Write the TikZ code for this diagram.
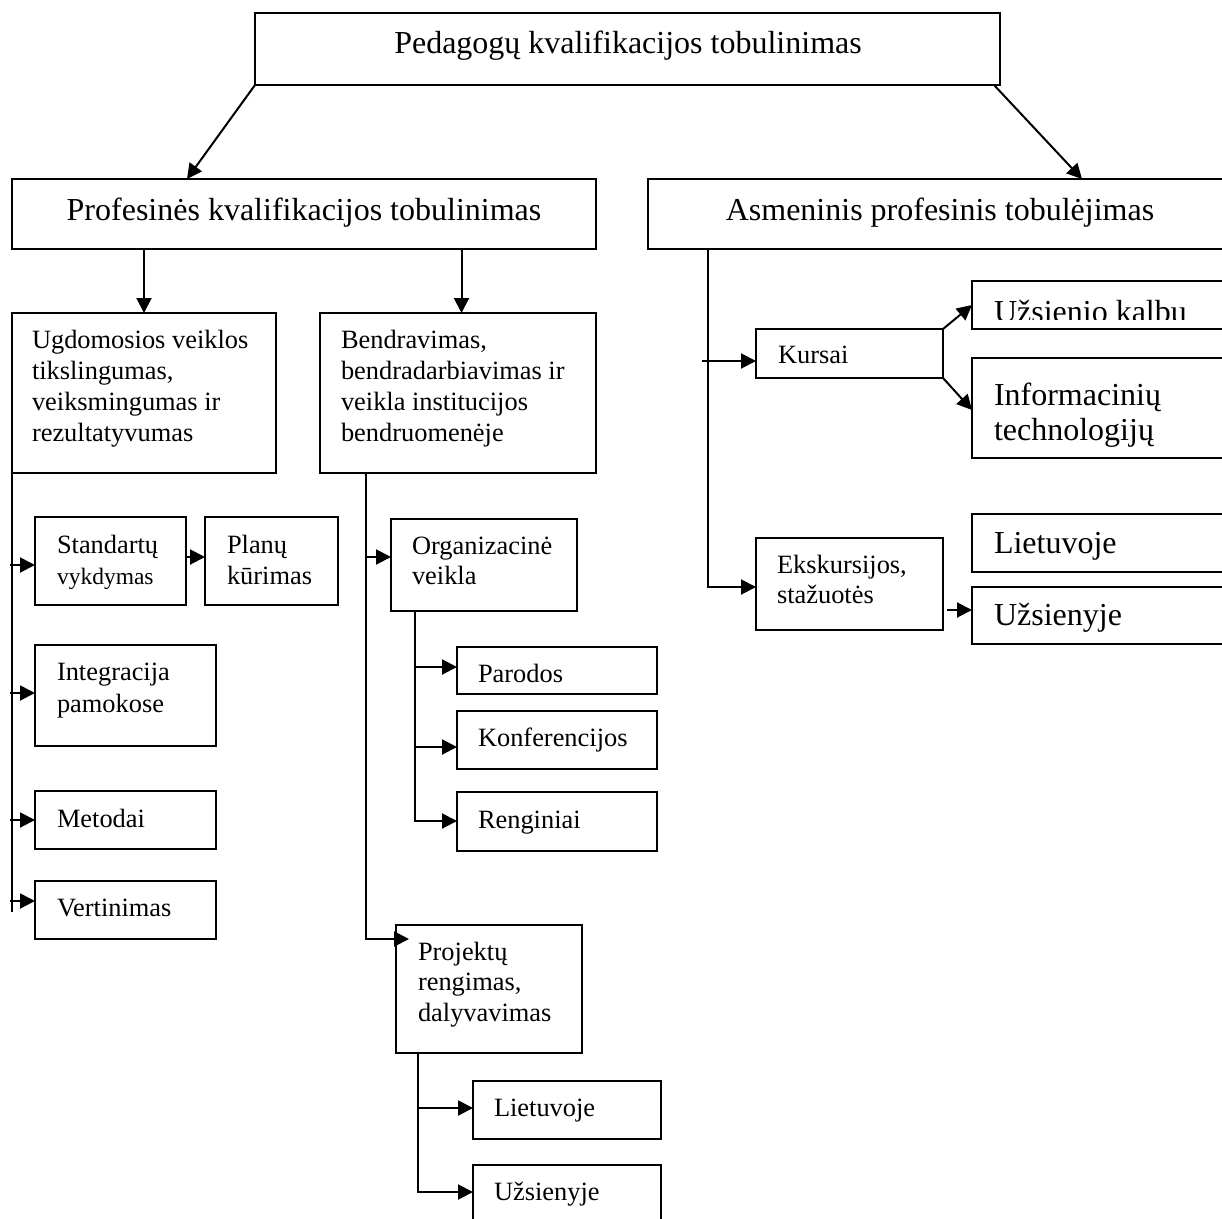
\documentclass[tikz,border=0pt]{standalone}
\usepackage{fontspec}
\setmainfont{Liberation Serif}
\usetikzlibrary{arrows.meta,calc}
\newcommand\fA{\fontsize{32}{36}\selectfont}
\newcommand\fB{\fontsize{26.4}{31}\selectfont}
\newcommand\fC{\fontsize{23.5}{28}\selectfont}
\newcommand\mkbox[5]{\node[box, minimum width={(#4-#2)*1pt}, minimum height={(#5-#3)*1pt}] (#1) at (#2,#3) {};}
\newcommand\tx[5]{\node[txt, font=#5] (#1) at (#2,#3) {#4};}
\tikzset{
 box/.style={draw, line width=2pt, inner sep=0pt, outer sep=0pt, anchor=north west},
 txt/.style={anchor=base west, inner sep=0pt, outer sep=0pt},
 ctxt/.style={anchor=base, inner sep=0pt, outer sep=0pt},
 ln/.style={line width=2pt},
 arr/.style={line width=2pt, -{Triangle[length=15pt,width=15pt]}}
}
\begin{document}
\begin{tikzpicture}[x=1pt,y=-1pt]
\clip (0,0) rectangle (1222,1218);
\fill[white] (0,0) rectangle (1222,1218);
% boxes
\mkbox{top}{255}{13}{1000}{85}
\mkbox{prof}{12}{179}{596}{249}
\mkbox{asm}{648}{179}{1240}{249}
\mkbox{ugd}{12}{313}{276}{473}
\mkbox{ben}{320}{313}{596}{473}
\mkbox{std}{35}{517}{186}{605}
\mkbox{plan}{205}{517}{338}{605}
\mkbox{integ}{35}{645}{216}{746}
\mkbox{met}{35}{791}{216}{849}
\mkbox{vert}{35}{881}{216}{939}
\mkbox{org}{391}{519}{577}{611}
\mkbox{par}{457}{647}{657}{694}
\mkbox{konf}{457}{711}{657}{769}
\mkbox{reng}{457}{792}{657}{851}
\mkbox{proj}{396}{925}{582}{1053}
\mkbox{lt}{473}{1081}{661}{1139}
\mkbox{uz}{473}{1165}{661}{1240}
\mkbox{kurs}{756}{329}{943}{378}
\mkbox{eks}{756}{538}{943}{630}
\mkbox{kalb}{972}{281}{1240}{329}
\mkbox{it}{972}{358}{1240}{458}
\mkbox{ltr}{972}{514}{1240}{572}
\mkbox{uzr}{972}{587}{1240}{644}
% texts
\node[ctxt, font=\fA] (ttop) at (628,53) {Pedagogų kvalifikacijos tobulinimas};
\node[ctxt, font=\fA] (tprof) at (304,220) {Profesinės kvalifikacijos tobulinimas};
\node[ctxt, font=\fA] (tasm) at (940,220) {Asmeninis profesinis tobulėjimas};
\tx{tugda}{32}{348}{Ugdomosios veiklos}{\fB}
\tx{tugdb}{32}{379}{tikslingumas,}{\fB}
\tx{tugdc}{32}{410}{veiksmingumas ir}{\fB}
\tx{tugdd}{32}{441}{rezultatyvumas}{\fB}
\tx{tbena}{341}{348}{Bendravimas,}{\fB}
\tx{tbenb}{341}{379}{bendradarbiavimas ir}{\fB}
\tx{tbenc}{341}{410}{veikla institucijos}{\fB}
\tx{tbend}{341}{441}{bendruomenėje}{\fB}
\tx{tstda}{57}{553}{Standartų}{\fB}
\tx{tstdb}{57}{584}{vykdymas}{\fC}
\tx{tplana}{227}{553}{Planų}{\fB}
\tx{tplanb}{227}{584}{kūrimas}{\fB}
\tx{tintega}{57}{680}{Integracija}{\fB}
\tx{tintegb}{57}{712}{pamokose}{\fB}
\tx{tmet}{57}{827}{Metodai}{\fB}
\tx{tvert}{57}{916}{Vertinimas}{\fB}
\tx{torga}{412}{554}{Organizacinė}{\fB}
\tx{torgb}{412}{584}{veikla}{\fB}
\tx{tpar}{478}{682}{Parodos}{\fB}
\tx{tkonf}{478}{746}{Konferencijos}{\fB}
\tx{treng}{478}{828}{Renginiai}{\fB}
\tx{tproja}{418}{960}{Projektų}{\fB}
\tx{tprojb}{418}{990}{rengimas,}{\fB}
\tx{tprojc}{418}{1021}{dalyvavimas}{\fB}
\tx{tlt}{494}{1116}{Lietuvoje}{\fB}
\tx{tuz}{494}{1200}{Užsienyje}{\fB}
\tx{tkurs}{778}{363}{Kursai}{\fB}
\tx{teksa}{777}{573}{Ekskursijos,}{\fB}
\tx{teksb}{777}{603}{stažuotės}{\fB}
\begin{scope}
\clip (972,282) rectangle (1240,319.5);
\tx{tkalb}{994}{322}{Užsienio kalbu}{\fA}
\end{scope}
\tx{tita}{994}{405}{Informacinių}{\fA}
\tx{titb}{994}{440}{technologijų}{\fA}
\tx{tltr}{994}{553}{Lietuvoje}{\fA}
\tx{tuzr}{994}{625}{Užsienyje}{\fA}
% connector coordinates
\coordinate (profin) at ($(prof.north west)+(175,0)$);
\coordinate (topout) at ($(top.south east)+(-6,0)$);
\coordinate (asmin) at ($(asm.north west)+(434,0)$);
\coordinate (ugdin) at ($(ugd.north west)+(132,0)$);
\coordinate (benin) at ($(ben.north west)+(141.5,0)$);
\coordinate (ltrunk) at ($(ugd.south west)+(0,439)$);
\coordinate (stdin) at ($(std.north west)+(0,48)$);
\coordinate (integin) at ($(integ.north west)+(0,48)$);
\coordinate (metin) at ($(met.north west)+(0,29)$);
\coordinate (vertin) at ($(vert.north west)+(0,20)$);
\coordinate (stdout) at ($(std.north east)+(0,40)$);
\coordinate (planin) at ($(plan.north west)+(0,40)$);
\coordinate (benout) at ($(ben.south west)+(46,0)$);
\coordinate (projin) at ($(proj.north west)+(13,14)$);
\coordinate (orgin) at ($(org.north west)+(0,38)$);
\coordinate (orgout) at ($(org.south west)+(24,0)$);
\coordinate (parin) at ($(par.north west)+(0,20)$);
\coordinate (konfin) at ($(konf.north west)+(0,36)$);
\coordinate (rengin) at ($(reng.north west)+(0,29)$);
\coordinate (projout) at ($(proj.south west)+(22,0)$);
\coordinate (ltin) at ($(lt.north west)+(0,27)$);
\coordinate (uzin) at ($(uz.north west)+(0,27)$);
\coordinate (asmout) at ($(asm.south west)+(60,0)$);
\coordinate (eksin) at ($(eks.north west)+(0,49)$);
\coordinate (kursin) at ($(kurs.north west)+(0,32)$);
\coordinate (kursstub) at ($(asmout |- kursin)+(-6,0)$);
\coordinate (kalbin) at ($(kalb.south west)+(0,-24)$);
\coordinate (itin) at ($(it.north west)+(0,52)$);
\coordinate (eksout) at ($(eks.north east)+(4,72)$);
\coordinate (uzrin) at ($(uzr.north west)+(0,23)$);
% connectors
\draw[arr] (top.south west) -- (profin);
\draw[arr] (topout) -- (asmin);
\draw[arr] (prof.south -| ugdin) -- (ugdin);
\draw[arr] (prof.south -| benin) -- (benin);
\draw[ln] (ugd.south west) -- (ltrunk);
\draw[arr] ($(ugd.south west |- stdin)+(-2,0)$) -- (stdin);
\draw[arr] ($(ugd.south west |- integin)+(-2,0)$) -- (integin);
\draw[arr] ($(ugd.south west |- metin)+(-2,0)$) -- (metin);
\draw[arr] ($(ugd.south west |- vertin)+(-2,0)$) -- (vertin);
\draw[arr] (stdout) -- (planin);
\draw[arr] (benout) |- (projin);
\draw[arr] (benout |- orgin) -- (orgin);
\draw[arr] (orgout) |- (rengin);
\draw[arr] (orgout |- parin) -- (parin);
\draw[arr] (orgout |- konfin) -- (konfin);
\draw[arr] (projout) |- (uzin);
\draw[arr] (projout |- ltin) -- (ltin);
\draw[arr] (asmout) |- (eksin);
\draw[arr] (kursstub) -- (kursin);
\draw[arr] (kurs.north east) -- (kalbin);
\draw[arr] (kurs.south east) -- (itin);
\draw[arr] (eksout) -- (uzrin);
\end{tikzpicture}
\end{document}
